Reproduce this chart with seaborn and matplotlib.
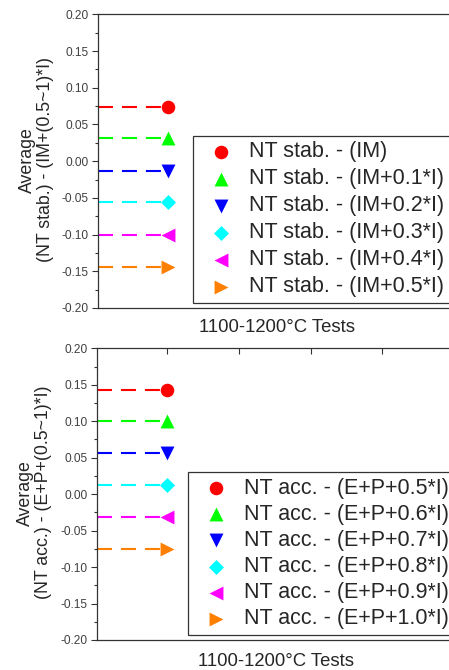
import numpy as np
import matplotlib.pyplot as plt
import pandas as pd
import seaborn as sns
from matplotlib.ticker import MultipleLocator, FormatStrFormatter

# values
test_label = '1100-1200°C Tests'

stab_labels = ['NT stab. - (IM)', 'NT stab. - (IM+0.1*I)', 'NT stab. - (IM+0.2*I)',
               'NT stab. - (IM+0.3*I)', 'NT stab. - (IM+0.4*I)', 'NT stab. - (IM+0.5*I)']
stab_values = [0.074, 0.031, -0.013, -0.056, -0.100, -0.144]

acc_labels = ['NT acc. - (E+P+0.5*I)', 'NT acc. - (E+P+0.6*I)', 'NT acc. - (E+P+0.7*I)',
              'NT acc. - (E+P+0.8*I)', 'NT acc. - (E+P+0.9*I)', 'NT acc. - (E+P+1.0*I)']
acc_values = [0.143, 0.100, 0.056, 0.012, -0.031, -0.075]

colors = ['#ff0000', '#00ff00', '#0000ff', '#00ffff', '#ff00ff', '#ff8000']
markers = ['o', '^', 'v', 'D', '<', '>']
sizes = [95, 100, 100, 58, 100, 100]

sns.set_style('ticks')
plt.rcParams['font.family'] = ['Liberation Sans', 'DejaVu Sans']

x_lo, x_hi = -0.98, 4.02

fig = plt.figure(figsize=(4.49, 6.70), dpi=100)
ax1 = fig.add_axes([98 / 449, 362 / 670, 358 / 449, 293.7 / 670])
ax2 = fig.add_axes([96.7 / 449, 30 / 670, 359 / 449, 291.7 / 670])


def draw_panel(ax, labels, values, ylabel, leg_xy, xlab_y, ylab_x, lspace):
    df = pd.DataFrame({'label': labels, 'value': values, 'test': 0})
    for i, row in df.iterrows():
        # dashed guide from the y axis to the point
        ax.plot([x_lo, row['test']], [row['value'], row['value']], color=colors[i],
                lw=1.5, ls=(0, (7.2, 4.3)), zorder=2)
        sns.scatterplot(x=[row['test']], y=[row['value']], color=colors[i], marker=markers[i],
                        s=sizes[i], linewidth=0, label=row['label'], ax=ax, zorder=3)

    ax.set_xlim(x_lo, x_hi)
    ax.set_ylim(-0.20, 0.20)
    ax.yaxis.set_major_locator(MultipleLocator(0.05))
    ax.yaxis.set_minor_locator(MultipleLocator(0.025))
    ax.yaxis.set_major_formatter(FormatStrFormatter('%.2f'))
    ax.tick_params(axis='y', which='major', length=4, width=0.8, pad=2.5,
                   labelsize=8.6, labelcolor='#404040', color='#333333')
    ax.tick_params(axis='y', which='minor', length=2, width=0.8, color='#333333')
    ax.spines['right'].set_visible(False)
    for s in ['left', 'top', 'bottom']:
        ax.spines[s].set_color('#333333')
        ax.spines[s].set_linewidth(0.9)

    ax.set_xlabel(test_label, fontsize=13.3, va='center')
    ax.xaxis.set_label_coords(0.5, xlab_y)
    ax.set_ylabel(ylabel, fontsize=12.8, linespacing=1.1, va='center', ha='center')
    ax.yaxis.set_label_coords(ylab_x, 0.505)

    leg = ax.legend(loc='upper left', bbox_to_anchor=leg_xy, borderaxespad=0,
                    fontsize=15.5, frameon=True, fancybox=False, framealpha=1,
                    edgecolor='#333333', borderpad=0.25, labelspacing=lspace,
                    handlelength=2.1, handletextpad=0.25, scatterpoints=1)
    leg.get_frame().set_linewidth(0.9)


draw_panel(ax1, stab_labels, stab_values, 'Average\n(NT stab.) - (IM+(0.5~1)*I)',
           (0.266, 0.586), -19 / 293.7, (36.5 - 98) / 358, 0.28)
ax1.tick_params(axis='x', bottom=False, top=False, labelbottom=False)

draw_panel(ax2, acc_labels, acc_values, 'Average\n(NT acc.) - (E+P+(0.5~1)*I)',
           (0.254, 0.575), -21 / 291.7, (34.6 - 96.7) / 359, 0.24)
ax2.set_xticks([0, 1, 2, 3])
ax2.tick_params(axis='x', bottom=False, top=True, direction='in', length=4, width=0.8,
                labelbottom=False, color='#333333')

fig.savefig('out.png', dpi=100)
